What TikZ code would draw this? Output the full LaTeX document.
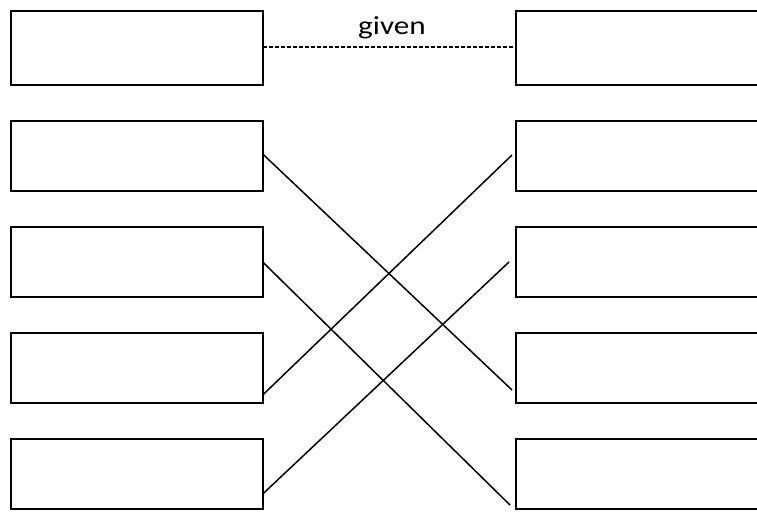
\documentclass[tikz,border=0pt]{standalone}
\usepackage{fontspec}
\setmainfont{Carlito}
\begin{document}
\begin{tikzpicture}[x=1pt,y=-1pt,
  box/.style={draw=black,line width=2pt,minimum width=251.7pt,inner sep=0pt,outer sep=0pt},
  rbox/.style={draw=black,line width=2pt,minimum width=300pt,inner sep=0pt,outer sep=0pt},
  tall/.style={minimum height=73.5pt},
  short/.style={minimum height=70pt},
  link/.style={line width=1.5pt},
  given/.style={dash pattern=on 4pt off 2pt,line width=1.6pt}]
\useasboundingbox (0,0) rectangle (757,511);
\clip (0,0) rectangle (757,511);
% left column
\node[box,tall]  (L1) at (136.85,47.75) {};
\node[box,short] (L2) at (136.85,155.5) {};
\node[box,short] (L3) at (136.85,261.5) {};
\node[box,short] (L4) at (136.85,367.5) {};
\node[box,short] (L5) at (136.85,473.5) {};
% right column (runs past the right edge)
\node[rbox,tall]  (R1) at (666,47.75) {};
\node[rbox,short] (R2) at (666,155.5) {};
\node[rbox,short] (R3) at (666,261.5) {};
\node[rbox,short] (R4) at (666,367.5) {};
\node[rbox,short] (R5) at (666,473.5) {};
% dashed link with label
\draw[given] ([yshift=1pt]L1.east) -- ([yshift=1pt]R1.west);
\node[anchor=base,inner sep=0pt,font=\fontsize{26}{31}\selectfont] (lbl) at (392,35) {\scalebox{1.2}[1]{given}};
% crossing links
\draw[link] ([yshift=1.5pt]L2.east) -- ([xshift=-4pt,yshift=-22.5pt]R4.west);
\draw[link] ([yshift=-0.5pt]L3.east) -- ([xshift=-6pt,yshift=-31.5pt]R5.west);
\draw[link] ([yshift=-27.5pt]L4.east) -- ([xshift=-4pt,yshift=0.5pt]R2.west);
\draw[link] ([yshift=-20.5pt]L5.east) -- ([xshift=-7pt,yshift=-0.5pt]R3.west);
\end{tikzpicture}
\end{document}
